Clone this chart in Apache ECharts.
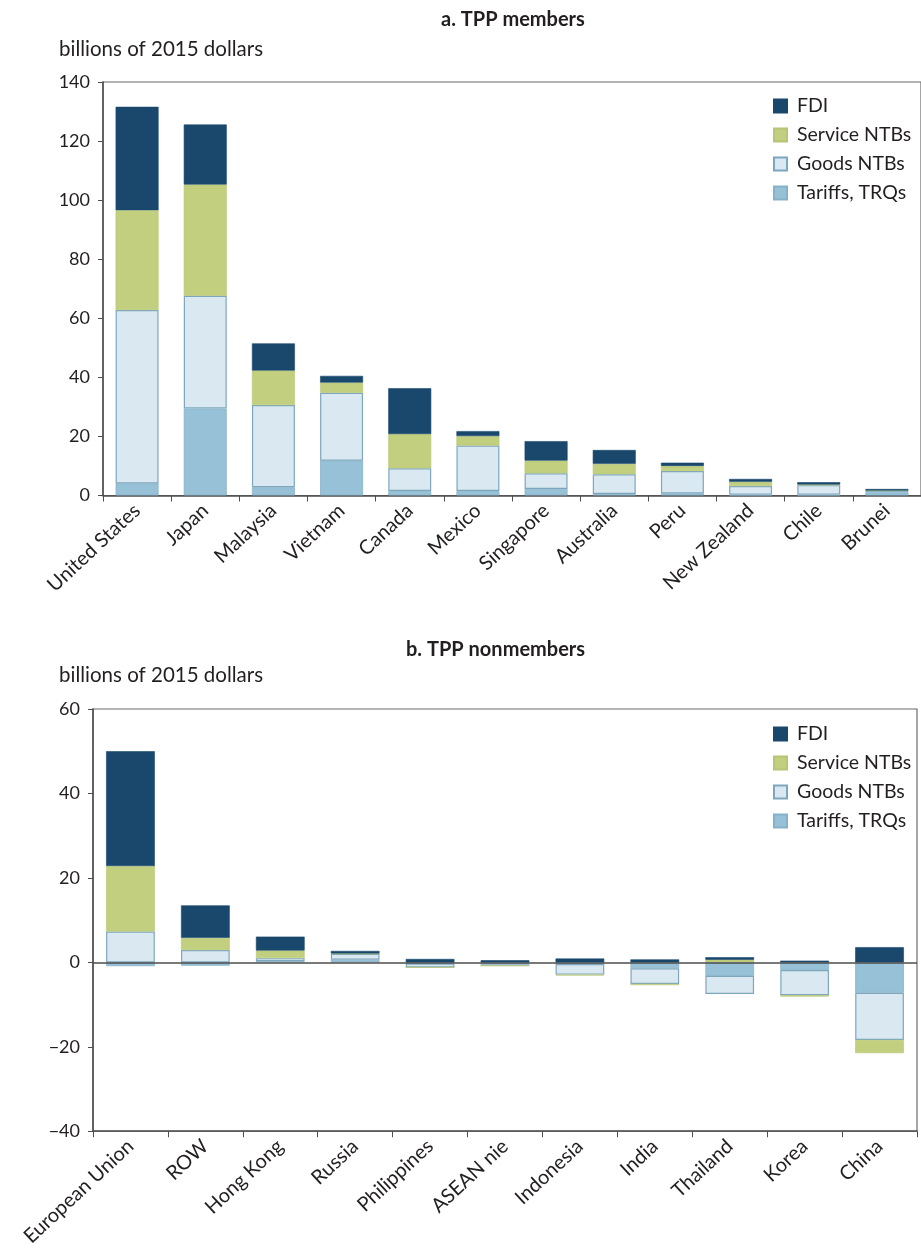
<!DOCTYPE html>
<html>
<head>
<meta charset="utf-8">
<script src="https://cdn.jsdelivr.net/npm/echarts@6/dist/echarts.min.js"></script>
<style>
  html, body { margin: 0; padding: 0; background: #fff; }
  #chart { width: 921px; height: 1249px; }
</style>
</head>
<body>
<div id="chart"></div>
<script>
// Panel a: TPP members (billions of 2015 dollars)
const membersCats = ['United States', 'Japan', 'Malaysia', 'Vietnam', 'Canada', 'Mexico',
  'Singapore', 'Australia', 'Peru', 'New Zealand', 'Chile', 'Brunei'];
const membersTariffs = [4.1, 29.5, 2.8, 11.8, 1.5, 1.5, 2.2, 0.5, 0.7, 0.3, 0.3, 1.5];
const membersGoods   = [58.7, 38.1, 27.8, 23.0, 7.7, 15.4, 5.3, 6.7, 7.6, 2.9, 3.2, 0.1];
const membersService = [33.8, 37.7, 11.7, 3.4, 11.6, 3.2, 4.3, 3.5, 1.7, 1.4, 0.2, 0.1];
const membersFDI     = [35.0, 20.3, 9.2, 2.3, 15.5, 1.7, 6.6, 4.7, 1.1, 1.0, 0.8, 0.5];

// Panel b: TPP nonmembers (billions of 2015 dollars)
const nonCats = ['European Union', 'ROW', 'Hong Kong', 'Russia', 'Philippines', 'ASEAN nie',
  'Indonesia', 'India', 'Thailand', 'Korea', 'China'];
const nonTariffs = [-0.9, -0.8, 0.3, 0.6, -0.3, -0.5, -0.4, -1.4, -3.2, -1.8, -7.2];
const nonGoods   = [7.3, 2.9, 0.7, 1.4, -0.9, -0.3, -2.5, -3.7, -4.3, -6.0, -11.2];
const nonService = [15.5, 2.9, 1.8, 0.1, 0, 0, -0.2, -0.3, 0.6, -0.3, -3.1];
const nonFDI     = [27.2, 7.7, 3.3, 0.6, 0.8, 0.5, 0.9, 0.7, 0.6, 0.4, 3.6];

const legendNames = ['FDI', 'Service NTBs', 'Goods NTBs', 'Tariffs, TRQs'];
const axisTicksA = { min: 0, max: 140, interval: 20 };
const axisTicksB = { min: -40, max: 60, interval: 20 };

const FONT = 'Lato';
const TEXT = '#231f20';
const AXIS = '#4d4d4d';

const styles = {
  'Tariffs, TRQs': { color: '#97c1d6', borderColor: '#86b2c9', borderWidth: 0.8 },
  'Goods NTBs':    { color: '#dae9f1', borderColor: '#7ea6bd', borderWidth: 1.2 },
  'Service NTBs':  { color: '#c1cf7e', borderColor: '#b6c676', borderWidth: 0.6 },
  'FDI':           { color: '#19486c', borderColor: '#19486c', borderWidth: 0.6 }
};

function stackSeries(gridIdx, stackName, width, data) {
  const order = ['Tariffs, TRQs', 'Goods NTBs', 'Service NTBs', 'FDI'];
  return order.map((name, i) => ({
    name: name,
    type: 'bar',
    stack: stackName,
    xAxisIndex: gridIdx,
    yAxisIndex: gridIdx,
    barWidth: width,
    itemStyle: styles[name],
    data: data[i],
    animation: false
  }));
}

const seriesA = stackSeries(0, 'a', '63%', [membersTariffs, membersGoods, membersService, membersFDI]);
const seriesB = stackSeries(1, 'b', '65%', [nonTariffs, nonGoods, nonService, nonFDI]);
// zero reference line in panel b
seriesB[0].markLine = {
  silent: true,
  symbol: 'none',
  label: { show: false },
  lineStyle: { color: AXIS, type: 'solid', width: 1.5 },
  data: [{ yAxis: 0 }],
  animation: false
};

const titleStyle = { fontFamily: FONT, fontWeight: 'bold', fontSize: 20, color: TEXT };
const unitStyle = { fontFamily: FONT, fontWeight: 'normal', fontSize: 20.5, color: TEXT };

function legendAt(top) {
  return {
    orient: 'vertical',
    left: 768,
    top: top,
    itemWidth: 13,
    itemHeight: 13,
    itemGap: 9,
    icon: 'rect',
    data: legendNames,
    textStyle: { fontFamily: FONT, fontSize: 19.5, color: TEXT, padding: [0, 0, 0, 5] },
    selectedMode: false
  };
}

function yAxisFor(gridIdx, ticks) {
  return {
    type: 'value',
    gridIndex: gridIdx,
    min: ticks.min,
    max: ticks.max,
    interval: ticks.interval,
    axisLine: { show: true, lineStyle: { color: AXIS, width: 1.5 } },
    axisTick: { show: true, length: 5, lineStyle: { color: AXIS } },
    splitLine: { show: false },
    axisLabel: {
      fontFamily: FONT, fontSize: 18, color: TEXT, margin: 13,
      formatter: v => String(v).replace('-', '\u2212')
    }
  };
}

function xAxisFor(gridIdx, cats) {
  return {
    type: 'category',
    gridIndex: gridIdx,
    data: cats,
    axisLine: { show: true, onZero: false, lineStyle: { color: AXIS, width: 1.5 } },
    axisTick: { show: true, length: 6, lineStyle: { color: AXIS } },
    axisLabel: {
      fontFamily: FONT, fontSize: 20, color: TEXT,
      rotate: 43, margin: 12, interval: 0
    }
  };
}

const option = {
  backgroundColor: '#ffffff',
  animation: false,
  title: [
    { text: 'a. TPP members', left: 436, top: 5, textStyle: titleStyle },
    { text: 'billions of 2015 dollars', left: 54, top: 34, textStyle: unitStyle },
    { text: 'b. TPP nonmembers', left: 401, top: 635, textStyle: titleStyle },
    { text: 'billions of 2015 dollars', left: 54, top: 660, textStyle: unitStyle }
  ],
  legend: [legendAt(91), legendAt(719)],
  grid: [
    { left: 103, top: 82, width: 825, height: 413.5, show: true,
      borderColor: '#6b6b6b', borderWidth: 1.2, backgroundColor: 'transparent' },
    { left: 93, top: 709, width: 824, height: 423, show: true,
      borderColor: '#6b6b6b', borderWidth: 1.2, backgroundColor: 'transparent' }
  ],
  xAxis: [xAxisFor(0, membersCats), xAxisFor(1, nonCats)],
  yAxis: [yAxisFor(0, axisTicksA), yAxisFor(1, axisTicksB)],
  series: seriesA.concat(seriesB)
};

const chart = echarts.init(document.getElementById('chart'), null, { renderer: 'canvas' });
chart.setOption(option);
</script>
</body>
</html>
